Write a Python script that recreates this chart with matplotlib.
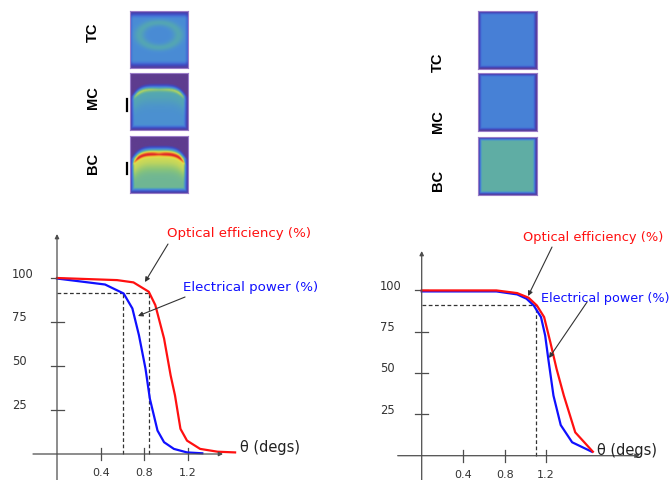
import numpy as np
import matplotlib
matplotlib.use("Agg")
import matplotlib.pyplot as plt
from matplotlib.colors import LinearSegmentedColormap

W, H = 671, 481

# ---- curve data ----
# left chart: theta (degs) vs %
left_theta_opt = [0.0, 0.55, 0.70, 0.84, 0.90, 0.98, 1.04, 1.08, 1.13, 1.19, 1.31, 1.47, 1.63]
left_opt = [100.0, 98.8, 97.5, 92.2, 84.6, 65.6, 44.7, 33.3, 14.3, 7.6, 2.9, 1.3, 0.9]
left_theta_el = [0.0, 0.44, 0.61, 0.69, 0.75, 0.81, 0.85, 0.92, 0.98, 1.07, 1.19, 1.33]
left_el = [99.7, 96.3, 91.2, 82.7, 67.5, 48.5, 31.4, 13.3, 6.7, 2.9, 0.9, 0.4]
left_cut_level = 91.6
left_cut_theta = [0.605, 0.84]

# right chart
right_theta_opt = [0.0, 0.72, 0.92, 1.03, 1.11, 1.18, 1.24, 1.30, 1.37, 1.48, 1.65]
right_opt = [99.8, 99.8, 98.2, 95.4, 90.7, 83.7, 68.5, 52.4, 36.3, 14.1, 2.4]
right_theta_el = [0.0, 0.72, 0.92, 1.01, 1.08, 1.15, 1.19, 1.22, 1.27, 1.34, 1.45, 1.64]
right_el = [99.2, 99.2, 97.4, 94.8, 90.7, 83.7, 72.6, 58.5, 36.3, 18.5, 8.1, 2.4]
right_cut_level = 91.3
right_cut_theta = [1.10]

y_ticks = [25, 50, 75, 100]
x_ticks = [0.4, 0.8, 1.2]
panel_labels = ["TC", "MC", "BC"]

# heat-map intensity levels (0..1 on the colour scale)
left_base = [0.34, 0.36, 0.50]
left_band = [0.0, 0.24, 0.46]
left_band_depth = [0.0, 0.10, 0.14]
right_base = [0.29, 0.30, 0.47]

cmap = LinearSegmentedColormap.from_list("flux", [
    (0.00, "#5e3c8f"), (0.10, "#3f48c0"), (0.25, "#4575d8"), (0.35, "#4a8ed4"),
    (0.45, "#55a8b0"), (0.55, "#88c47a"), (0.70, "#e4e04a"), (0.82, "#f0a030"),
    (1.00, "#e02828")])

fig = plt.figure(figsize=(W / 100, H / 100), dpi=100)


def px_axes(left, top, w, h):
    return fig.add_axes([left / W, 1 - (top + h) / H, w / W, h / H])


def smooth(x):
    x = np.clip(x, 0, 1)
    return x * x * (3 - 2 * x)


n = 120
U, V = np.meshgrid(np.linspace(0, 1, n), np.linspace(0, 1, n))
edge = np.minimum(np.minimum(U, 1 - U), np.minimum(V, 1 - V))


def left_field(i):
    if i == 0:
        dv = np.minimum(V, 1 - V)
        du = np.minimum(U, 1 - U)
        f = left_base[0] * (0.1 + 0.9 * smooth(dv / 0.14) * (0.55 + 0.45 * smooth(du / 0.06)))
        r = np.sqrt(((U - 0.5) / 0.34) ** 2 + ((V - 0.42) / 0.22) ** 2)
        f = f + 0.10 * np.exp(-((r - 1) / 0.28) ** 2) * smooth(dv / 0.2)
        return f
    top = 0.18 + 0.25 * np.abs(2 * U - 1) ** 4
    d_top = V - top
    d = np.minimum(np.minimum(d_top, np.minimum(U, 1 - U) * 1.2), 1 - V)
    inside = smooth(d / 0.10)
    f = left_base[i] * (0.1 + 0.9 * inside)
    if i == 1:
        env = 0.55 + 0.45 * np.abs(2 * U - 1)
    else:
        env = 1 - 0.2 * np.exp(-((U - 0.5) / 0.07) ** 2)
    env = env * smooth((np.minimum(U, 1 - U)) / 0.16)
    dep = left_band_depth[i]
    f = f + left_band[i] * env * np.exp(-((d_top - dep) / 0.04) ** 2) * (d_top > 0)
    f = f + 0.35 * left_band[i] * np.exp(-((d_top - dep - 0.08) / 0.18) ** 2) * (d_top > dep) * inside
    f = np.where(d_top < 0, 0.0, f)
    return np.clip(f, 0, 1)


def right_field(i):
    return right_base[i] * (0.05 + 0.95 * smooth(edge / 0.07))


# ---- heat maps ----
left_tops = [12, 74, 137]
right_tops = [12, 74, 138]
for i in range(3):
    ax = px_axes(130, left_tops[i], 58, 57)
    ax.imshow(left_field(i), cmap=cmap, vmin=0, vmax=1, aspect="auto", interpolation="bilinear")
    ax.set_xticks([]); ax.set_yticks([])
    for s in ax.spines.values():
        s.set_color("#9a7cc8"); s.set_linewidth(0.8)
    ax = px_axes(478, right_tops[i], 59, 58)
    ax.imshow(right_field(i), cmap=cmap, vmin=0, vmax=1, aspect="auto", interpolation="bilinear")
    ax.set_xticks([]); ax.set_yticks([])
    for s in ax.spines.values():
        s.set_color("#9a7cc8"); s.set_linewidth(0.8)

# overlay in pixel units for the panel labels
ov = fig.add_axes([0, 0, 1, 1])
ov.set_xlim(0, W); ov.set_ylim(H, 0); ov.axis("off")
ov.patch.set_alpha(0)
for lab, y in zip(panel_labels, [32, 98, 163]):
    ov.text(93, y, lab, rotation=90, ha="center", va="center", fontsize=10.5,
            fontweight="bold", family="Liberation Sans")
for lab, y in zip(panel_labels, [62, 122, 180]):
    ov.text(438, y, lab, rotation=90, ha="center", va="center", fontsize=10.5,
            fontweight="bold", family="Liberation Sans")
ov.plot([127, 127], [100, 112], color="black", lw=1.6)
ov.plot([127, 127], [164, 175], color="black", lw=1.6)


def chart(rect, origin, sx, sy):
    left, top, w, h = rect
    ax = px_axes(left, top, w, h)
    ox, oy = origin
    ax.set_xlim((left - ox) / sx, (left + w - ox) / sx)
    ax.set_ylim((oy - (top + h)) / sy, (oy - top) / sy)
    ax.axis("off")
    ax.patch.set_alpha(0)
    return ax


def draw_axes(ax, sx, sy, x_end, y_top, label_x, label_dy):
    gray = "#4d4d4d"
    y0, y1 = ax.get_ylim()
    ax.annotate("", xy=(x_end, 0), xytext=(-24 / sx, 0),
                arrowprops=dict(arrowstyle="-|>", color=gray, lw=0.9, mutation_scale=6,
                                shrinkA=0, shrinkB=0))
    ax.annotate("", xy=(0, y_top), xytext=(0, y0),
                arrowprops=dict(arrowstyle="-|>", color=gray, lw=0.9, mutation_scale=6,
                                shrinkA=0, shrinkB=0))
    for t in y_ticks:
        ax.plot([-6.5 / sx, 6.5 / sx], [t, t], color=gray, lw=0.9)
        ax.text(label_x, t + 5 / sy, str(t), ha="left", va="center", fontsize=8.3, color="#333333")
    for t in x_ticks:
        ax.plot([t, t], [-6 / sy, 6 / sy], color=gray, lw=0.9)
        ax.text(t, label_dy, f"{t:.1f}", ha="center", va="top", fontsize=8.0, color="#333333")


def arrow(ax, start, end):
    ax.annotate("", xy=end, xytext=start,
                arrowprops=dict(arrowstyle="-|>", color="#333333", lw=0.8, mutation_scale=7,
                                shrinkA=0, shrinkB=0))


# ---- left chart ----
sxL, syL = 109.25, 1.76
axL = chart((0, 200, 335, 281), (57, 455), sxL, syL)
draw_axes(axL, sxL, syL, 1.52, 125, -0.412, -7.5)
axL.plot([0, left_cut_theta[1]], [left_cut_level, left_cut_level], color="#333333", lw=0.9, ls=(0, (3, 2)))
for t in left_cut_theta:
    axL.plot([t, t], [0, left_cut_level], color="#333333", lw=0.9, ls=(0, (3, 2)))
axL.plot(left_theta_el, left_el, color="#1010ff", lw=1.6)
axL.plot(left_theta_opt, left_opt, color="#ff1010", lw=1.6)
axL.text(1.007, 126.1, "Optical efficiency (%)", color="#ff1010", fontsize=9.6, va="center")
axL.text(1.153, 94.9, "Electrical power (%)", color="#1010ff", fontsize=9.6, va="center")
arrow(axL, (1.016, 119.3), (0.805, 97.7))
arrow(axL, (1.172, 89.2), (0.741, 78.4))
axL.text(1.675, 4.0, "θ (degs)", fontsize=10.5, va="center", color="#222222")

# ---- right chart ----
sxR, syR = 103.75, 1.656
axR = chart((340, 200, 331, 281), (421.7, 456.7), sxR, syR)
draw_axes(axR, sxR, syR, 2.10, 123.6, -0.402, -8.0)
axR.plot([0, right_cut_theta[0]], [right_cut_level, right_cut_level], color="#333333", lw=0.9, ls=(0, (3, 2)))
axR.plot([right_cut_theta[0]] * 2, [0, right_cut_level], color="#333333", lw=0.9, ls=(0, (3, 2)))
axR.plot(right_theta_el, right_el, color="#1010ff", lw=1.6)
axR.plot(right_theta_opt, right_opt, color="#ff1010", lw=1.6)
axR.text(0.976, 132.1, "Optical efficiency (%)", color="#ff1010", fontsize=9.4, va="center")
axR.text(1.150, 95.8, "Electrical power (%)", color="#1010ff", fontsize=9.2, va="center")
arrow(axR, (1.256, 126.0), (1.025, 96.4))
arrow(axR, (1.594, 92.8), (1.227, 59.0))
axR.text(1.690, 4.0, "θ (degs)", fontsize=10.5, va="center", color="#222222")

fig.savefig("out.png", dpi=100)
